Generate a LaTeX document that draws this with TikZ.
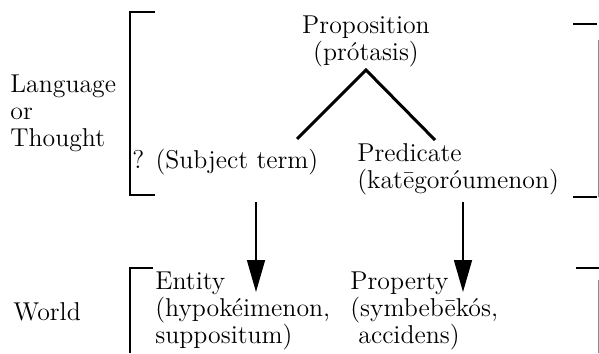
\documentclass[tikz,border=0pt]{standalone}
\usepackage{amsmath}
\usetikzlibrary{positioning,calc,arrows,arrows.meta}
\tikzset{font=\fontsize{12.9}{13.5}\selectfont}
\tikzset{
	bracket/.style={line width=0.9pt},
	faint/.style={line width=0.5pt, black!45},
	branch/.style={line width=1.5pt},
	maps/.style={line width=0.8pt, -{Triangle[length=16pt, width=9pt]}},
}

\begin{document}
\begin{tikzpicture}[x=0.5pt, y=-0.5pt]
	\useasboundingbox (0,0) rectangle (599,353);
	\begin{scope}
		\tikzstyle{every node}=[align=left, inner sep=0pt, anchor=base west]
		\node (lang) at (10, 147) {Language\\or\\Thought};
		\node (world) at (13, 320) {World};
		\node[align=center, anchor=base] (prop) at (366, 61) {Proposition\\(pr\'otasis)};
		\node (subj) at (132, 168) {? (Subject term)};
		\node (pred) at (357, 188) {Predicate\\(kat\=egor\'oumenon)};
		\node (entity) at (155, 343) {Entity\\(hypok\'eimenon,\\suppositum)};
		\node (prop2) at (350, 343) {Property\\(symbeb\=ek\'os,\\\hspace{4pt}accidens)};

		% tree of the proposition
		\coordinate (apex) at (366, 70);
		\coordinate (subjtop) at (297, 139);
		\coordinate (predtop) at (435, 140);
		\draw[branch] (subjtop) -- (apex) -- (predtop);

		% from language to world
		\coordinate (subjfoot) at (256, 202);
		\coordinate (entityhead) at (256, 292);
		\coordinate (predfoot) at (463, 202);
		\coordinate (prophead) at (463, 292);
		\draw[maps] (subjfoot) -- (entityhead);
		\draw[maps] (predfoot) -- (prophead);

		% brackets
		\draw[bracket] (155, 12) -- (130, 12) -- (130, 195) -- (155, 195);
		\draw[bracket] (573, 24) -- (597, 24);
		\draw[bracket] (573, 197) -- (597, 197);
		\draw[faint] (598, 40) -- (598, 197);
		\draw[bracket] (153, 268) -- (130, 268) -- (130, 353);
		\draw[bracket] (576, 268) -- (599, 268);
		\draw[faint] (598, 280) -- (598, 353);
	\end{scope}
\end{tikzpicture}
\end{document}
